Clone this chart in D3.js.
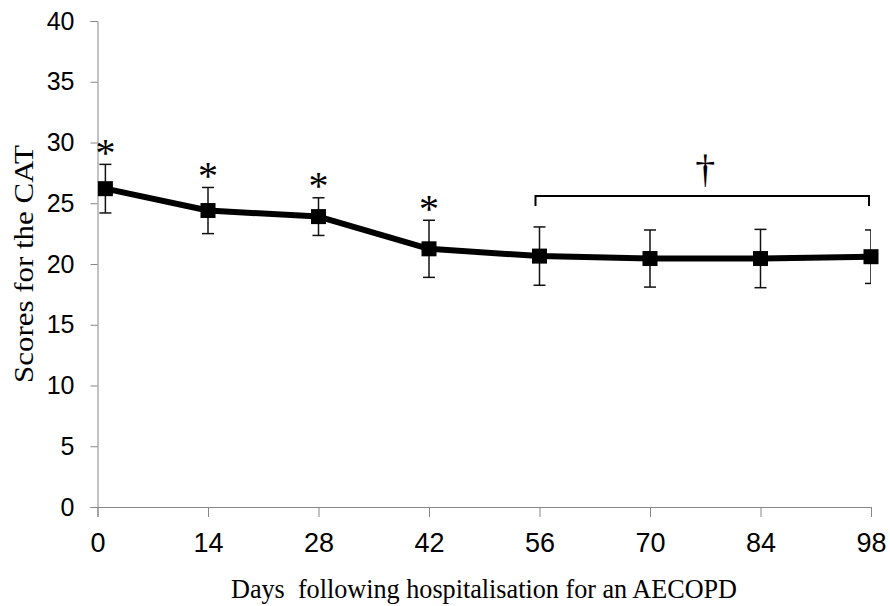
<!DOCTYPE html>
<html>
<head>
<meta charset="utf-8">
<script src="https://cdn.jsdelivr.net/npm/d3@7"></script>
<style>
  body { margin: 0; background: #fff; }
  svg { display: block; }
</style>
</head>
<body>
<div id="chart-wrap"></div>
<script>
// values
const days = [1, 14, 28, 42, 56, 70, 84, 98];
const catMeans = [26.2, 24.4, 23.9, 21.25, 20.65, 20.45, 20.45, 20.6];
const catSd = [2.0, 1.9, 1.55, 2.35, 2.4, 2.35, 2.4, 2.2];
const significant = [true, true, true, true, false, false, false, false];
const xTicks = [0, 14, 28, 42, 56, 70, 84, 98];
const yTicks = [0, 5, 10, 15, 20, 25, 30, 35, 40];
const bracketDays = [56, 98];
const bracketLevel = 25.6;

const width = 890;
const height = 606;

const svg = d3.select("#chart-wrap").append("svg")
  .attr("width", width)
  .attr("height", height);

// scales
const x = d3.scaleLinear().domain([0, 98]).range([97.5, 871]);
const y = d3.scaleLinear().domain([0, 40]).range([507, 21]);

const axisGrey = "#878787";

// y axis
const yAxis = d3.axisLeft(y).tickValues(yTicks).tickSize(7).tickSizeOuter(7).tickPadding(16);
const gy = svg.append("g").attr("transform", `translate(${x(0)},0)`).call(yAxis);
gy.select(".domain").attr("stroke", axisGrey);
gy.selectAll(".tick line").attr("stroke", axisGrey);
gy.selectAll(".tick text")
  .attr("fill", "#000")
  .style("font-family", "'Liberation Sans', Arial, sans-serif")
  .style("font-size", "25px");

// x axis
const xAxis = d3.axisBottom(x).tickValues(xTicks).tickSize(10).tickSizeOuter(10).tickPadding(16);
const gx = svg.append("g").attr("transform", `translate(0,${y(0)})`).call(xAxis);
gx.select(".domain").attr("stroke", axisGrey);
gx.selectAll(".tick line").attr("stroke", axisGrey);
gx.selectAll(".tick text")
  .attr("fill", "#000")
  .style("font-family", "'Liberation Sans', Arial, sans-serif")
  .style("font-size", "27px");

// axis titles
svg.append("text")
  .attr("transform", "translate(33,264) rotate(-90)")
  .attr("text-anchor", "middle")
  .attr("textLength", 238)
  .attr("lengthAdjust", "spacingAndGlyphs")
  .style("font-family", "'Liberation Serif', 'Times New Roman', serif")
  .style("font-size", "28px")
  .text("Scores for the CAT");

svg.append("text")
  .attr("x", 484)
  .attr("y", 598)
  .attr("text-anchor", "middle")
  .attr("textLength", 506)
  .attr("lengthAdjust", "spacingAndGlyphs")
  .style("font-family", "'Liberation Serif', 'Times New Roman', serif")
  .style("font-size", "27px")
  .style("white-space", "pre")
  .text("Days  following hospitalisation for an AECOPD");

const data = days.map((d, i) => ({
  day: d,
  mean: catMeans[i],
  sd: catSd[i],
  sig: significant[i]
}));

// error bars, clipped at the plot's right edge
svg.append("clipPath").attr("id", "plot-clip")
  .append("rect")
  .attr("x", 0).attr("y", 0)
  .attr("width", x(98)).attr("height", height);

const capW = 6;
const err = svg.append("g")
  .attr("clip-path", "url(#plot-clip)")
  .attr("stroke", "#111")
  .attr("stroke-width", 1.5)
  .selectAll("g")
  .data(data)
  .enter()
  .append("g");

err.append("line")
  .attr("x1", (d) => x(d.day)).attr("x2", (d) => x(d.day))
  .attr("y1", (d) => y(d.mean + d.sd)).attr("y2", (d) => y(d.mean - d.sd));
err.append("line")
  .attr("x1", (d) => x(d.day) - capW).attr("x2", (d) => x(d.day) + capW)
  .attr("y1", (d) => y(d.mean + d.sd)).attr("y2", (d) => y(d.mean + d.sd));
err.append("line")
  .attr("x1", (d) => x(d.day) - capW).attr("x2", (d) => x(d.day) + capW)
  .attr("y1", (d) => y(d.mean - d.sd)).attr("y2", (d) => y(d.mean - d.sd));

// mean line
const line = d3.line().x((d) => x(d.day)).y((d) => y(d.mean));
svg.append("path")
  .datum(data)
  .attr("d", line)
  .attr("fill", "none")
  .attr("stroke", "#000")
  .attr("stroke-width", 6)
  .attr("stroke-linejoin", "round");

// square markers
const marker = 15;
svg.selectAll("rect.marker")
  .data(data)
  .enter()
  .append("rect")
  .attr("class", "marker")
  .attr("x", (d) => x(d.day) - marker / 2)
  .attr("y", (d) => y(d.mean) - marker / 2)
  .attr("width", marker)
  .attr("height", marker)
  .attr("fill", "#000");

// asterisks above the first four points
const starSize = 40;
svg.selectAll("text.star")
  .data(data.filter((d) => d.sig))
  .enter()
  .append("text")
  .attr("class", "star")
  .attr("x", (d) => x(d.day))
  .attr("y", (d) => y(d.mean + d.sd) - 18 + starSize * 0.49)
  .attr("text-anchor", "middle")
  .style("font-family", "'Liberation Serif', 'Times New Roman', serif")
  .style("font-size", starSize + "px")
  .text("*");

// bracket over days 56-98 with dagger
const bx0 = x(bracketDays[0]) - 4;
const bx1 = x(bracketDays[1]) - 2;
const by = y(bracketLevel);
svg.append("path")
  .attr("d", `M${bx0},${by + 10}V${by}H${bx1}V${by + 10}`)
  .attr("fill", "none")
  .attr("stroke", "#000")
  .attr("stroke-width", 2);

svg.append("text")
  .attr("x", x((bracketDays[0] + bracketDays[1]) / 2))
  .attr("y", by - 14)
  .attr("text-anchor", "middle")
  .style("font-family", "'Liberation Serif', 'Times New Roman', serif")
  .style("font-size", "40px")
  .text("\u2020");
</script>
</body>
</html>
